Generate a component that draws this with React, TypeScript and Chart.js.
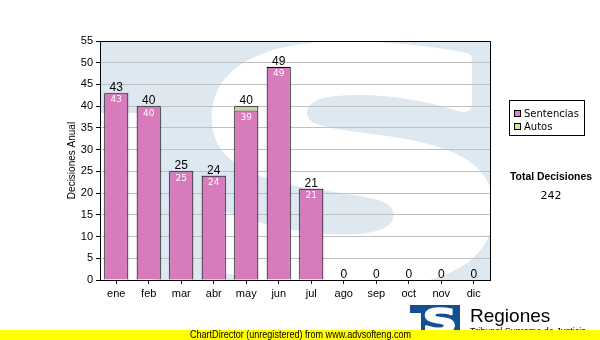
import React, { useEffect, useRef } from 'react';
import { Chart, registerables } from 'chart.js';

Chart.register(...registerables);

// ---- data ----
const months = ['ene', 'feb', 'mar', 'abr', 'may', 'jun', 'jul', 'ago', 'sep', 'oct', 'nov', 'dic'];
const sentencias = [43, 40, 25, 24, 39, 49, 21, 0, 0, 0, 0, 0];
const autos = [0, 0, 0, 0, 1, 0, 0, 0, 0, 0, 0, 0];
const seriesNames = ['Sentencias', 'Autos'];
const yMin = 0;
const yMax = 55;
const yStep = 5;
const yTitle = 'Decisiones Anual';
const totalTitle = 'Total Decisiones';
const logoTitle = 'Regiones';
const logoSubtitle = 'Tribunal Supremo de Justicia';
const bannerText = 'ChartDirector (unregistered) from www.advsofteng.com';

// ---- styles ----
const PINK = 'rgb(226,131,195)';
const GREEN = 'rgb(208,232,150)';
const WM_BLUE = '#dee8f1';
const WM_OVER = 'rgb(243,239,248)';
const LOGO_BLUE = '#124f93';
const AXIS_FONT = '"Liberation Sans", Arial, sans-serif';
const UI_FONT = '"DejaVu Sans", Verdana, sans-serif';

function drawS(
  ctx: CanvasRenderingContext2D,
  x0: number,
  y0: number,
  x1: number,
  y1: number,
  color: string,
  thick: number
) {
  ctx.save();
  ctx.font = 'bold 200px "DejaVu Sans"';
  ctx.textAlign = 'left';
  ctx.textBaseline = 'alphabetic';
  const m = ctx.measureText('S');
  const gw = m.actualBoundingBoxLeft + m.actualBoundingBoxRight;
  const gh = m.actualBoundingBoxAscent + m.actualBoundingBoxDescent;
  const sx = (x1 - x0 - thick) / gw;
  const sy = (y1 - y0 - thick) / gh;
  ctx.translate(x0 + thick / 2, y0 + thick / 2);
  ctx.scale(sx, sy);
  ctx.fillStyle = color;
  ctx.strokeStyle = color;
  ctx.lineJoin = 'round';
  ctx.lineWidth = thick / ((sx + sy) / 2);
  ctx.fillText('S', m.actualBoundingBoxLeft, m.actualBoundingBoxAscent);
  if (thick > 0) ctx.strokeText('S', m.actualBoundingBoxLeft, m.actualBoundingBoxAscent);
  ctx.restore();
}

function drawWatermark(ctx: CanvasRenderingContext2D, a: any, blue: string) {
  const w = a.right - a.left;
  const h = a.bottom - a.top;
  ctx.save();
  ctx.beginPath();
  ctx.rect(a.left, a.top, w, h);
  ctx.clip();
  ctx.fillStyle = blue;
  ctx.fillRect(a.left, a.top, w, h);
  ctx.fillStyle = '#ffffff';
  ctx.fillRect(a.left, a.top + 72, 53, h - 72);
  drawS(ctx, a.left + 112, a.top - 2, a.right + 4, a.bottom + 10, '#ffffff', 14);
  ctx.restore();
}

const decorPlugin = {
  id: 'decor',
  beforeDraw(chart: any) {
    const ctx = chart.ctx as CanvasRenderingContext2D;
    ctx.save();
    ctx.fillStyle = '#ffffff';
    ctx.fillRect(0, 0, chart.width, chart.height);
    ctx.restore();
    drawWatermark(ctx, chart.chartArea, WM_BLUE);
  },
  afterDatasetsDraw(chart: any) {
    const ctx = chart.ctx as CanvasRenderingContext2D;
    const a = chart.chartArea;
    // shade the bars where the watermark lies behind them
    ctx.save();
    ctx.beginPath();
    chart.data.datasets.forEach((_: any, di: number) => {
      const meta = chart.getDatasetMeta(di);
      meta.data.forEach((el: any) => {
        const p = el.getProps(['x', 'y', 'base', 'width'], true);
        if (p.y == null || isNaN(p.y) || Math.abs(p.base - p.y) < 0.5) return;
        ctx.rect(p.x - p.width / 2 - 1, Math.min(p.y, p.base) - 1, p.width + 2, Math.abs(p.base - p.y) + 1);
      });
    });
    ctx.clip();
    ctx.globalCompositeOperation = 'multiply';
    drawWatermark(ctx, a, WM_OVER);
    ctx.restore();

    // value labels
    const ys = chart.scales.y;
    const meta0 = chart.getDatasetMeta(0);
    ctx.save();
    months.forEach((_, i) => {
      const x = meta0.data[i].x;
      const total = sentencias[i] + autos[i];
      ctx.fillStyle = '#000';
      ctx.font = `12px ${AXIS_FONT}`;
      ctx.textAlign = 'center';
      ctx.textBaseline = 'alphabetic';
      ctx.fillText(String(total), x, ys.getPixelForValue(total) - 2);
      if (sentencias[i] > 0) {
        ctx.fillStyle = '#ffffff';
        ctx.font = `9px ${UI_FONT}`;
        ctx.textBaseline = 'middle';
        ctx.fillText(String(sentencias[i]), x, ys.getPixelForValue(sentencias[i]) + 7);
      }
    });
    ctx.restore();
  },
  afterDraw(chart: any) {
    const ctx = chart.ctx as CanvasRenderingContext2D;
    const a = chart.chartArea;
    ctx.save();
    // top and right frame
    ctx.strokeStyle = '#000';
    ctx.lineWidth = 1;
    ctx.beginPath();
    const top = Math.round(a.top - 0.5) + 0.5;
    const right = Math.round(a.right - 0.5) + 0.5;
    ctx.moveTo(a.left, top);
    ctx.lineTo(right, top);
    ctx.lineTo(right, a.bottom);
    ctx.stroke();

    // legend
    ctx.fillStyle = '#fff';
    ctx.fillRect(509, 100, 75, 35);
    ctx.strokeRect(509.5, 100.5, 75, 35);
    const colors = [PINK, GREEN];
    seriesNames.forEach((name, i) => {
      const cy = 113 + i * 13;
      ctx.fillStyle = colors[i];
      ctx.fillRect(514, cy - 3, 7, 7);
      ctx.strokeStyle = '#000';
      ctx.strokeRect(514.5, cy - 2.5, 6, 6);
      ctx.fillStyle = '#000';
      ctx.font = `10px ${UI_FONT}`;
      ctx.textAlign = 'left';
      ctx.textBaseline = 'middle';
      ctx.fillText(name, 524, cy + 1);
    });

    // total
    const total = sentencias.reduce((s, v) => s + v, 0) + autos.reduce((s, v) => s + v, 0);
    ctx.fillStyle = '#000';
    ctx.textAlign = 'center';
    ctx.textBaseline = 'middle';
    ctx.font = `bold 11px ${AXIS_FONT}`;
    ctx.fillText(totalTitle, 551, 177, 82);
    ctx.font = `11px ${UI_FONT}`;
    ctx.fillText(String(total), 551, 196);

    // logo
    ctx.fillStyle = LOGO_BLUE;
    ctx.fillRect(410, 305, 50, 30);
    ctx.fillStyle = '#fff';
    ctx.fillRect(410, 313, 11, 22);
    drawS(ctx, 425, 307, 455, 334, '#ffffff', 2);
    ctx.fillStyle = '#000';
    ctx.textAlign = 'left';
    ctx.textBaseline = 'alphabetic';
    ctx.font = `19px ${AXIS_FONT}`;
    ctx.fillText(logoTitle, 470, 322);
    ctx.font = `9px ${AXIS_FONT}`;
    ctx.fillText(logoSubtitle, 470, 334);

    // banner
    ctx.fillStyle = '#ffff00';
    ctx.fillRect(0, 330, chart.width, 10);
    ctx.fillStyle = '#000';
    ctx.font = `10px ${AXIS_FONT}`;
    ctx.textBaseline = 'middle';
    ctx.fillText(bannerText, 190, 335.5, 221);
    ctx.restore();
  },
};

export default function App() {
  const ref = useRef<HTMLCanvasElement | null>(null);
  useEffect(() => {
    if (!ref.current) return;
    const chart = new Chart(ref.current, {
      type: 'bar',
      data: {
        labels: months,
        datasets: [
          {
            label: seriesNames[0],
            data: sentencias,
            backgroundColor: PINK,
            borderColor: '#000',
            borderWidth: 1,
          },
          {
            label: seriesNames[1],
            data: autos.map((v) => (v === 0 ? null : v)),
            backgroundColor: GREEN,
            borderColor: '#000',
            borderWidth: 1,
          },
        ],
      },
      options: {
        responsive: false,
        animation: false,
        layout: { padding: { left: 60, right: 110, top: 41, bottom: 0 } },
        datasets: { bar: { barPercentage: 0.74, categoryPercentage: 1 } },
        plugins: { legend: { display: false }, tooltip: { enabled: false } },
        scales: {
          x: {
            stacked: true,
            grid: {
              display: true,
              drawOnChartArea: false,
              offset: false,
              tickLength: 4,
              tickColor: '#000',
              color: '#000',
            },
            border: { display: true, color: '#000', z: 1 },
            ticks: { color: '#000', font: { family: AXIS_FONT, size: 11 }, padding: 3 },
            afterFit: (s: any) => {
              s.height = 60;
            },
          },
          y: {
            stacked: true,
            min: yMin,
            max: yMax,
            ticks: { stepSize: yStep, color: '#000', font: { family: AXIS_FONT, size: 11 }, padding: 3 },
            grid: { color: '#c0c0c0', tickColor: '#000', tickLength: 4 },
            border: { display: true, color: '#000', z: 1 },
            title: {
              display: true,
              text: yTitle,
              color: '#000',
              font: { family: AXIS_FONT, size: 10 },
              padding: { top: 6, bottom: 0 },
            },
            afterFit: (s: any) => {
              s.width = 40;
            },
          },
        },
      },
      plugins: [decorPlugin],
    } as any);
    return () => chart.destroy();
  }, []);
  return (
    <div style={{ position: 'absolute', left: 0, top: 0, width: 600, height: 340, background: '#fff' }}>
      <canvas ref={ref} width={600} height={340} style={{ display: 'block' }} />
    </div>
  );
}
